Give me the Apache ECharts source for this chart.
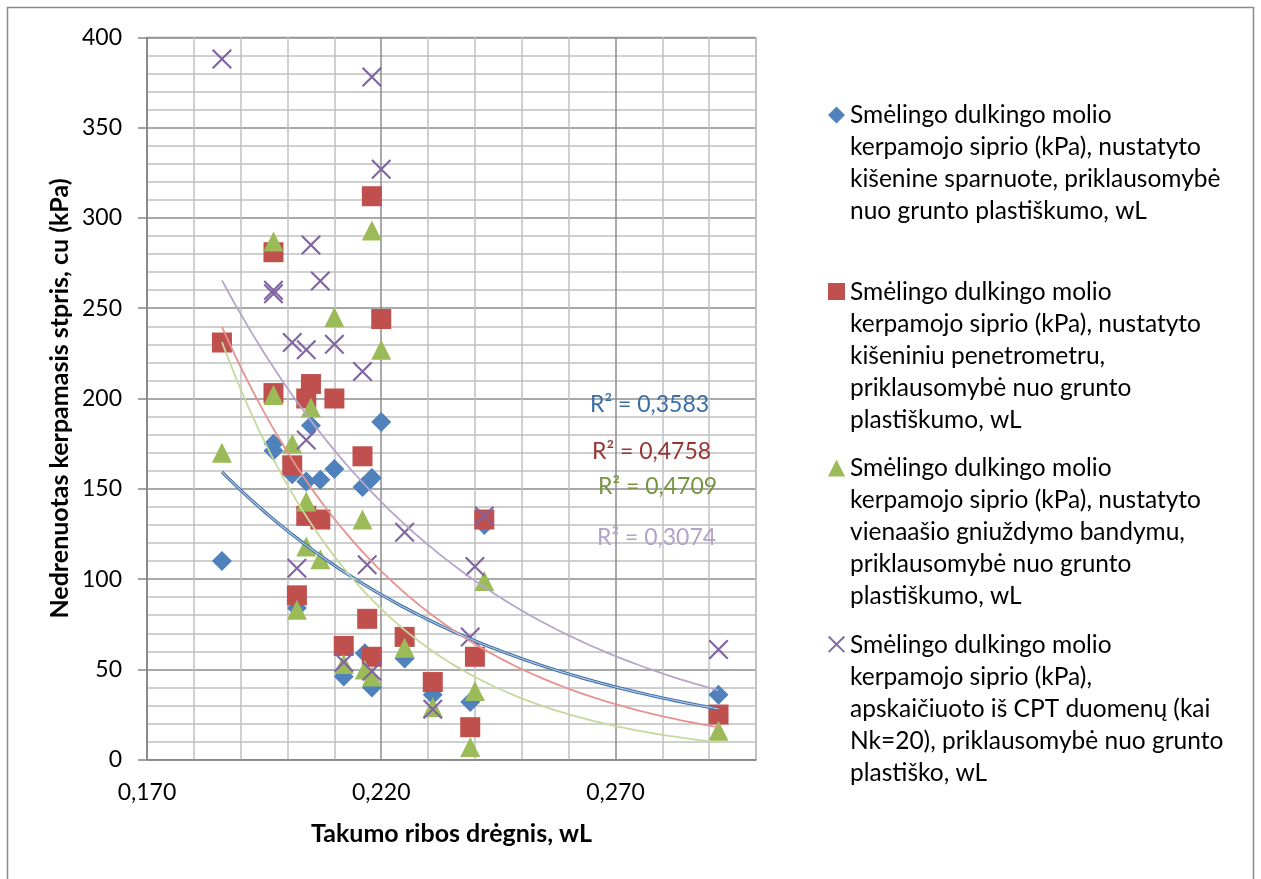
<!DOCTYPE html>
<html>
<head>
<meta charset="utf-8">
<script src="https://cdn.jsdelivr.net/npm/echarts@6/dist/echarts.min.js"></script>
<style>
  html, body { margin: 0; padding: 0; background: #ffffff; }
  #chart { width: 1261px; height: 879px; }
</style>
</head>
<body>
<div id="chart"></div>
<script>
// Liquid limit wL (x) against undrained shear strength cu, kPa (y)
const vaneX = [0.186, 0.197, 0.197, 0.201, 0.202, 0.204, 0.205, 0.207, 0.210, 0.212, 0.216, 0.2165, 0.218, 0.218, 0.220, 0.225, 0.231, 0.239, 0.242, 0.292];
const vaneY = [110, 175, 171, 158, 84, 154, 185, 155, 161, 46, 151, 59, 156, 40, 187, 56, 36, 32, 130, 36];

const penetrometerX = [0.186, 0.197, 0.197, 0.201, 0.202, 0.204, 0.204, 0.205, 0.207, 0.210, 0.212, 0.216, 0.217, 0.218, 0.218, 0.220, 0.225, 0.231, 0.239, 0.240, 0.242, 0.292];
const penetrometerY = [231, 281, 203, 163, 91, 200, 135, 208, 133, 200, 63, 168, 78, 312, 57, 244, 68, 43, 18, 57, 133, 25];

const unconfinedX = [0.186, 0.197, 0.197, 0.201, 0.202, 0.204, 0.204, 0.205, 0.207, 0.210, 0.212, 0.216, 0.2165, 0.218, 0.218, 0.220, 0.225, 0.231, 0.239, 0.240, 0.242, 0.292];
const unconfinedY = [170, 287, 202, 175, 83, 143, 118, 195, 111, 245, 53, 133, 50, 293, 46, 227, 62, 29, 7, 38, 99, 16];

const cptX = [0.186, 0.197, 0.197, 0.201, 0.202, 0.204, 0.204, 0.205, 0.207, 0.210, 0.212, 0.216, 0.217, 0.218, 0.218, 0.220, 0.225, 0.231, 0.239, 0.240, 0.242, 0.292];
const cptY = [388, 260, 258, 231, 106, 227, 177, 285, 265, 230, 54, 215, 108, 378, 49, 327, 126, 28, 68, 107, 135, 61];

const seriesNames = [
  'Smėlingo dulkingo molio kerpamojo siprio (kPa), nustatyto kišenine sparnuote, priklausomybė nuo grunto plastiškumo, wL',
  'Smėlingo dulkingo molio kerpamojo siprio (kPa), nustatyto kišeniniu penetrometru, priklausomybė nuo grunto plastiškumo, wL',
  'Smėlingo dulkingo molio kerpamojo siprio (kPa), nustatyto vienaašio gniuždymo bandymu, priklausomybė nuo grunto plastiškumo, wL',
  'Smėlingo dulkingo molio kerpamojo siprio (kPa), apskaičiuoto iš CPT duomenų (kai Nk=20), priklausomybė nuo grunto plastiško, wL'
];
const legendLines = [
  ['Smėlingo dulkingo molio', 'kerpamojo siprio (kPa), nustatyto', 'kišenine sparnuote, priklausomybė', 'nuo grunto plastiškumo, wL'],
  ['Smėlingo dulkingo molio', 'kerpamojo siprio (kPa), nustatyto', 'kišeniniu penetrometru,', 'priklausomybė nuo grunto', 'plastiškumo, wL'],
  ['Smėlingo dulkingo molio', 'kerpamojo siprio (kPa), nustatyto', 'vienaašio gniuždymo bandymu,', 'priklausomybė nuo grunto', 'plastiškumo, wL'],
  ['Smėlingo dulkingo molio', 'kerpamojo siprio (kPa),', 'apskaičiuoto iš CPT duomenų (kai', 'Nk=20), priklausomybė nuo grunto', 'plastiško, wL']
];
const r2Labels = ['R² = 0,3583', 'R² = 0,4758', 'R² = 0,4709', 'R² = 0,3074'];
const xTickLabels = [0.17, 0.22, 0.27];

const markerColors = ['#4f81bd', '#c0504d', '#9bbb59', '#8064a2'];
const trendColors = ['#3f6fa6', '#e6938f', '#c5d99d', '#b5a5cb'];
const r2Colors = ['#3b6da4', '#963634', '#779440', '#b3a2c7'];

const FONT = 'Lato, "Open Sans", sans-serif';

// X mark built from two thin bars
const crossPath = 'path://M0,1.5 L1.5,0 L20,18.5 L18.5,20 Z M18.5,0 L20,1.5 L1.5,20 L0,18.5 Z';

// Legend icons: the marker sits at the top of a tall, otherwise empty box
const H = 103.8, T = 9.1;
const pad = ' M5,0 L5.001,0 M5,' + H + ' L5.001,' + H;
const legendIcons = [
  'path://M5,' + T + ' L10,' + (T + 5) + ' L5,' + (T + 10) + ' L0,' + (T + 5) + ' Z' + pad,
  'path://M0,' + T + ' L10,' + T + ' L10,' + (T + 10) + ' L0,' + (T + 10) + ' Z' + pad,
  'path://M5,' + T + ' L10,' + (T + 10) + ' L0,' + (T + 10) + ' Z' + pad,
  'path://M0,' + (T + 0.75) + ' L0.75,' + T + ' L10,' + (T + 9.25) + ' L9.25,' + (T + 10) + ' Z M9.25,' + T +
    ' L10,' + (T + 0.75) + ' L0.75,' + (T + 10) + ' L0,' + (T + 9.25) + ' Z' + pad
];

// Exponential least-squares fit y = a * exp(b x), as a spreadsheet trendline does
function expTrend(xs, ys) {
  const n = xs.length;
  let sx = 0, sy = 0, sxx = 0, sxy = 0;
  for (let i = 0; i < n; i++) {
    const ly = Math.log(ys[i]);
    sx += xs[i]; sy += ly; sxx += xs[i] * xs[i]; sxy += xs[i] * ly;
  }
  const b = (n * sxy - sx * sy) / (n * sxx - sx * sx);
  const a = Math.exp((sy - b * sx) / n);
  const x0 = Math.min.apply(null, xs), x1 = Math.max.apply(null, xs);
  const pts = [];
  const steps = 80;
  for (let k = 0; k <= steps; k++) {
    const x = x0 + (x1 - x0) * k / steps;
    pts.push([x, a * Math.exp(b * x)]);
  }
  return pts;
}

function pairs(xs, ys) { return xs.map((x, i) => [x, ys[i]]); }

const groups = [
  { x: vaneX, y: vaneY, symbol: 'diamond' },
  { x: penetrometerX, y: penetrometerY, symbol: 'rect' },
  { x: unconfinedX, y: unconfinedY, symbol: 'triangle' },
  { x: cptX, y: cptY, symbol: crossPath }
];

const series = [];
groups.forEach((g, i) => {
  series.push({
    name: seriesNames[i],
    type: 'scatter',
    data: pairs(g.x, g.y),
    symbol: g.symbol,
    symbolSize: 20,
    itemStyle: { color: markerColors[i], opacity: 1 },
    z: 3,
    silent: true
  });
});
groups.forEach((g, i) => {
  const pts = expTrend(g.x, g.y);
  if (i === 0) {
    // blue trendline is drawn as a double stroke
    series.push({
      type: 'line', data: pts, showSymbol: false, silent: true, z: 4,
      lineStyle: { color: trendColors[0], width: 3.2 }
    });
    series.push({
      type: 'line', data: pts, showSymbol: false, silent: true, z: 5,
      lineStyle: { color: '#b4cbe6', width: 1.1 }
    });
  } else {
    series.push({
      type: 'line', data: pts, showSymbol: false, silent: true, z: 4,
      lineStyle: { color: trendColors[i], width: 1.8 }
    });
  }
});

const r2Pos = [[590, 405], [592, 452], [598, 487], [597, 538]];

const chart = echarts.init(document.getElementById('chart'), null, { renderer: 'canvas' });
chart.setOption({
  animation: false,
  backgroundColor: '#ffffff',
  textStyle: { fontFamily: FONT },
  grid: { left: 147, right: 505, top: 37.3, bottom: 119.3, show: true, borderColor: '#8c8c8c', borderWidth: 1 },
  xAxis: {
    type: 'value',
    min: 0.17, max: 0.30, interval: 0.01,
    axisLine: { show: true, onZero: false, lineStyle: { color: '#868686', width: 1.5 } },
    axisTick: { show: false },
    axisLabel: {
      color: '#000000', fontSize: 23, fontFamily: FONT, margin: 21,
      formatter: function (v) {
        const hit = xTickLabels.some(t => Math.abs(t - v) < 1e-6);
        return hit ? v.toFixed(3).replace('.', ',') : '';
      }
    },
    splitLine: { show: true, lineStyle: { color: ['#8c8c8c', '#c0c0c0', '#c0c0c0', '#c0c0c0', '#c0c0c0'], width: 1.5 } },
    name: 'Takumo ribos drėgnis, wL',
    nameLocation: 'middle', nameGap: 62,
    nameTextStyle: { color: '#000000', fontSize: 25, fontWeight: 'bold', fontFamily: FONT }
  },
  yAxis: {
    type: 'value',
    min: 0, max: 400, interval: 50,
    axisLine: { show: true, lineStyle: { color: '#868686', width: 1.5 } },
    axisTick: { show: true, length: 9, lineStyle: { color: '#868686', width: 1.5 } },
    axisLabel: { color: '#000000', fontSize: 23, fontFamily: FONT, margin: 25 },
    splitLine: { show: true, lineStyle: { color: '#8c8c8c', width: 1.5 } },
    minorTick: { show: false, splitNumber: 5 },
    minorSplitLine: { show: true, lineStyle: { color: '#c0c0c0', width: 1.5 } },
    name: 'Nedrenuotas kerpamasis stpris, cu (kPa)',
    nameLocation: 'middle', nameGap: 75, nameRotate: 90,
    nameTextStyle: { color: '#000000', fontSize: 25, fontWeight: 'bold', fontFamily: FONT }
  },
  legend: {
    show: true,
    orient: 'vertical',
    left: 823, top: 86,
    itemWidth: 17, itemHeight: 176.5, itemGap: 0,
    selectedMode: false,
    data: seriesNames.map((n, i) => ({ name: n, icon: legendIcons[i] })),
    formatter: function (name) {
      const i = seriesNames.indexOf(name);
      const lines = legendLines[i].slice();
      while (lines.length < 5) lines.push(' ');
      return lines.join('\n');
    },
    textStyle: { color: '#000000', fontSize: 24.5, lineHeight: 32, fontFamily: FONT }
  },
  graphic: [
    { type: 'rect', silent: true, shape: { x: 7.5, y: 7.5, width: 1246, height: 900 },
      style: { fill: 'none', stroke: '#8a8a8a', lineWidth: 1.5 } }
  ].concat(r2Labels.map((t, i) => ({
    type: 'text', silent: true, x: r2Pos[i][0], y: r2Pos[i][1],
    style: { text: t, fill: r2Colors[i], font: '23px ' + FONT, verticalAlign: 'middle', align: 'left' },
    z: 10
  }))),
  series: series
});
</script>
</body>
</html>
